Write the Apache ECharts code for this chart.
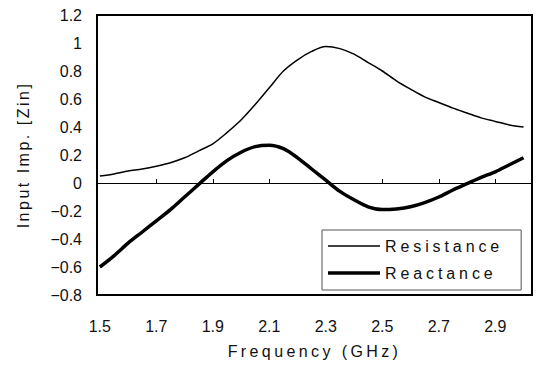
<!DOCTYPE html>
<html>
<head>
<meta charset="utf-8">
<script src="https://cdn.jsdelivr.net/npm/echarts@6/dist/echarts.min.js"></script>
<style>
html,body{margin:0;padding:0;background:#fff;}
#c{width:541px;height:369px;}
</style>
</head>
<body>
<div id="c"></div>
<script>
// Frequency (GHz)
const freq = [1.50,1.55,1.60,1.65,1.70,1.75,1.80,1.85,1.90,1.95,2.00,2.05,2.10,2.15,2.20,2.25,2.30,2.35,2.40,2.45,2.50,2.55,2.60,2.65,2.70,2.75,2.80,2.85,2.90,2.95,3.00];
const resistance = [0.05,0.065,0.085,0.10,0.12,0.145,0.18,0.23,0.28,0.36,0.45,0.56,0.68,0.80,0.88,0.94,0.975,0.96,0.92,0.86,0.80,0.73,0.67,0.615,0.575,0.535,0.50,0.465,0.44,0.415,0.40];
const reactance = [-0.60,-0.52,-0.43,-0.35,-0.27,-0.19,-0.10,-0.01,0.08,0.16,0.22,0.26,0.27,0.245,0.18,0.10,0.02,-0.06,-0.12,-0.17,-0.19,-0.185,-0.17,-0.14,-0.10,-0.05,-0.005,0.04,0.08,0.13,0.18];
const xTickLabels = [1.5,1.7,1.9,2.1,2.3,2.5,2.7,2.9];
const zeroLineTicks = [1.7,1.9,2.1,2.3,2.5,2.7,2.9];
const seriesNames = ['Resistance','Reactance'];
const xTitle = 'Frequency (GHz)';
const yTitle = 'Input Imp. [Zin]';

const FONT = "'Liberation Sans', Arial, sans-serif";
const chart = echarts.init(document.getElementById('c'), null, {renderer:'svg'});
const pairs = vals => freq.map((f,i)=>[f, vals[i]]);

chart.setOption({
  animation:false,
  backgroundColor:'#fff',
  textStyle:{fontFamily:FONT,color:'#111'},
  grid:{left:97,right:9,top:15,bottom:74,show:true,borderColor:'#000',borderWidth:2,backgroundColor:'transparent'},
  legend:{
    orient:'vertical',left:322,top:230,
    data:[
      {name:seriesNames[0],icon:'path://M0,0H52V1.5H0Z'},
      {name:seriesNames[1],icon:'path://M0,0H52V3.5H0Z'}
    ],
    symbolKeepAspect:true,
    itemWidth:52,itemHeight:14,itemGap:11,
    padding:[8,57,9,6],
    borderColor:'#555',borderWidth:1,backgroundColor:'#fff',
    itemStyle:{color:'#000',borderWidth:0},
    textStyle:{fontFamily:FONT,fontSize:16,color:'#111'}
  },
  xAxis:[{
    type:'value',min:1.49,max:3.03,position:'bottom',
    axisLine:{show:false,onZero:false},axisTick:{show:false},splitLine:{show:false},
    axisLabel:{customValues:xTickLabels,fontSize:16,color:'#111',margin:23,fontFamily:FONT,
      formatter:v=>v.toFixed(1)},
    name:xTitle,nameLocation:'middle',nameGap:48,
    nameTextStyle:{fontSize:16,color:'#111',fontFamily:FONT}
  },{
    type:'value',min:1.49,max:3.03,position:'top',
    axisLine:{show:true,onZero:true,lineStyle:{color:'#000',width:1}},
    axisTick:{show:true,inside:false,length:4,customValues:zeroLineTicks,lineStyle:{color:'#000',width:1}},
    axisLabel:{show:false},splitLine:{show:false}
  }],
  yAxis:{
    type:'value',min:-0.8,max:1.2,interval:0.2,
    axisLine:{show:false,onZero:false},axisTick:{show:false},splitLine:{show:false},
    axisLabel:{fontSize:16,color:'#111',margin:15,fontFamily:FONT,
      formatter:v=>{const s=String(Math.round(v*10)/10);return s.replace('-','\u2212');}},
    name:yTitle,nameLocation:'middle',nameGap:66,
    nameTextStyle:{fontSize:16,color:'#111',fontFamily:FONT}
  },
  series:[{
    name:seriesNames[0],type:'line',xAxisIndex:0,data:pairs(resistance),
    symbol:'none',smooth:0.3,lineStyle:{color:'#000',width:1.5},itemStyle:{color:'#000'}
  },{
    name:seriesNames[1],type:'line',xAxisIndex:0,data:pairs(reactance),
    symbol:'none',smooth:0.3,lineStyle:{color:'#000',width:3.5},itemStyle:{color:'#000'}
  }]
});

function spaceTexts(){
  const spacing = {'Resistance':'3.9px','Reactance':'3.9px','Frequency (GHz)':'3.4px','Input Imp. [Zin]':'2.5px'};
  document.querySelectorAll('#c svg text').forEach(t=>{
    const s = spacing[t.textContent];
    if(s) t.setAttribute('letter-spacing', s);
  });
}
spaceTexts();
chart.on('finished', spaceTexts);
requestAnimationFrame(spaceTexts);
setTimeout(spaceTexts, 50);
</script>
</body>
</html>
